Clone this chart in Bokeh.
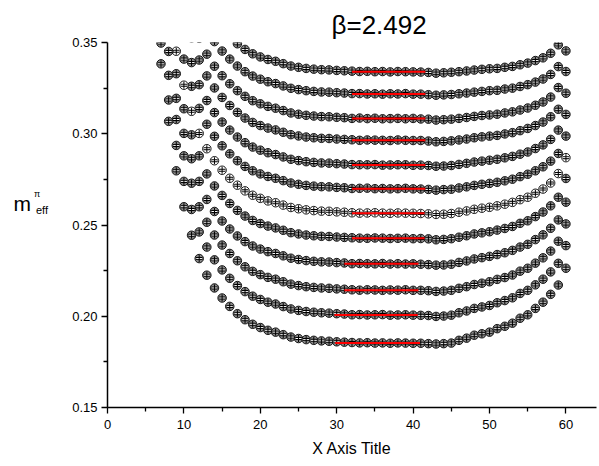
from bokeh.plotting import figure
from bokeh.layouts import row
from bokeh.models import Range1d, FixedTicker, PrintfTickFormatter
from bokeh.core.properties import value
from bokeh.embed import file_html
from bokeh.resources import INLINE
import math

# first time slice of each series
T_START = [15, 13, 12, 11, 10, 9, 9, 8, 8, 8, 7, 7]

s1 = [0.3575, 0.3531, 0.3493, 0.3462, 0.3438, 0.3421, 0.3407, 0.3397, 0.3384, 0.3371, 0.3364, 0.3358, 0.3354, 0.3351, 0.3350, 0.3347, 0.3345,
      0.3343, 0.3341, 0.3342, 0.3340, 0.3341, 0.3339, 0.3341, 0.3340, 0.3339, 0.3338, 0.3336, 0.3332, 0.3334,
      0.3337, 0.3340, 0.3344, 0.3349, 0.3353, 0.3356, 0.3358, 0.3364, 0.3369, 0.3378, 0.3387, 0.3401, 0.3416, 0.3441, 0.3487, 0.3580]
s2 = [0.3571, 0.3505, 0.3453, 0.3409, 0.3371, 0.3340, 0.3316, 0.3299, 0.3285, 0.3275, 0.3262, 0.3249, 0.3242, 0.3236, 0.3232, 0.3229, 0.3228, 0.3225, 0.3223,
      0.3220, 0.3220, 0.3218, 0.3219, 0.3217, 0.3219, 0.3218, 0.3220, 0.3217, 0.3217, 0.3214, 0.3211, 0.3213,
      0.3215, 0.3219, 0.3223, 0.3228, 0.3232, 0.3236, 0.3238, 0.3245, 0.3250, 0.3259, 0.3269, 0.3283, 0.3300, 0.3325, 0.3368, 0.3454]
s3 = [0.3523, 0.3436, 0.3370, 0.3318, 0.3274, 0.3236, 0.3205, 0.3181, 0.3164, 0.3150, 0.3140, 0.3127, 0.3114, 0.3107, 0.3101, 0.3097, 0.3094, 0.3093, 0.3090, 0.3088,
      0.3084, 0.3086, 0.3083, 0.3085, 0.3082, 0.3083, 0.3084, 0.3082, 0.3084, 0.3081, 0.3080, 0.3075, 0.3077,
      0.3080, 0.3084, 0.3089, 0.3095, 0.3100, 0.3103, 0.3107, 0.3114, 0.3120, 0.3130, 0.3141, 0.3156, 0.3174, 0.3201, 0.3253, 0.3341]
s4 = [0.3525, 0.3404, 0.3317, 0.3251, 0.3199, 0.3155, 0.3117, 0.3086, 0.3062, 0.3045, 0.3031, 0.3021, 0.3008, 0.2995, 0.2988, 0.2982, 0.2978, 0.2975, 0.2974, 0.2971, 0.2969,
      0.2967, 0.2964, 0.2966, 0.2965, 0.2964, 0.2963, 0.2966, 0.2964, 0.2963, 0.2963, 0.2960, 0.2956, 0.2958,
      0.2961, 0.2966, 0.2971, 0.2978, 0.2983, 0.2987, 0.2991, 0.2999, 0.3006, 0.3017, 0.3029, 0.3045, 0.3064, 0.3093, 0.3134, 0.3222]
s5 = [0.3539, 0.3390, 0.3269, 0.3182, 0.3116, 0.3064, 0.3020, 0.2982, 0.2951, 0.2927, 0.2910, 0.2896, 0.2886, 0.2873, 0.2860, 0.2853, 0.2847, 0.2843, 0.2840, 0.2839, 0.2836, 0.2834,
      0.2831, 0.2830, 0.2830, 0.2831, 0.2828, 0.2829, 0.2830, 0.2830, 0.2827, 0.2828, 0.2826, 0.2822, 0.2823,
      0.2826, 0.2832, 0.2838, 0.2845, 0.2850, 0.2855, 0.2860, 0.2868, 0.2876, 0.2888, 0.2900, 0.2919, 0.2939, 0.2969, 0.3020, 0.3106]
s6 = [0.3596, 0.3409, 0.3260, 0.3139, 0.3052, 0.2986, 0.2934, 0.2890, 0.2852, 0.2821, 0.2797, 0.2780, 0.2766, 0.2756, 0.2743, 0.2730, 0.2723, 0.2717, 0.2713, 0.2710, 0.2709, 0.2706, 0.2704,
      0.2700, 0.2701, 0.2702, 0.2699, 0.2700, 0.2698, 0.2699, 0.2701, 0.2698, 0.2697, 0.2695, 0.2691, 0.2694,
      0.2696, 0.2703, 0.2709, 0.2717, 0.2723, 0.2728, 0.2734, 0.2742, 0.2751, 0.2765, 0.2778, 0.2797, 0.2819, 0.2850, 0.2892, 0.2987]
s7 = [0.3452, 0.3266, 0.3123, 0.3002, 0.2918, 0.2852, 0.2800, 0.2756, 0.2718, 0.2687, 0.2663, 0.2646, 0.2632, 0.2622, 0.2609, 0.2596, 0.2589, 0.2583, 0.2579, 0.2576, 0.2575, 0.2572, 0.2570,
      0.2567, 0.2565, 0.2566, 0.2567, 0.2565, 0.2564, 0.2566, 0.2565, 0.2564, 0.2563, 0.2561, 0.2558, 0.2559,
      0.2563, 0.2570, 0.2577, 0.2586, 0.2592, 0.2597, 0.2605, 0.2614, 0.2624, 0.2639, 0.2652, 0.2674, 0.2697, 0.2730, 0.2782, 0.2869]
s8 = [0.3581, 0.3329, 0.3137, 0.2994, 0.2879, 0.2780, 0.2714, 0.2662, 0.2618, 0.2580, 0.2549, 0.2525, 0.2508, 0.2494, 0.2484, 0.2471, 0.2458, 0.2451, 0.2445, 0.2441, 0.2438, 0.2437, 0.2434, 0.2432,
      0.2430, 0.2428, 0.2427, 0.2429, 0.2428, 0.2426, 0.2427, 0.2428, 0.2425, 0.2426, 0.2424, 0.2419, 0.2421,
      0.2425, 0.2433, 0.2441, 0.2451, 0.2457, 0.2463, 0.2472, 0.2481, 0.2492, 0.2509, 0.2523, 0.2546, 0.2571, 0.2605, 0.2652, 0.2755]
s9 = [0.3451, 0.3194, 0.3002, 0.2863, 0.2739, 0.2640, 0.2574, 0.2522, 0.2478, 0.2440, 0.2409, 0.2385, 0.2368, 0.2354, 0.2344, 0.2331, 0.2318, 0.2311, 0.2305, 0.2301, 0.2298, 0.2297, 0.2294, 0.2292,
      0.2288, 0.2289, 0.2288, 0.2287, 0.2289, 0.2286, 0.2288, 0.2286, 0.2287, 0.2285, 0.2283, 0.2280, 0.2281,
      0.2285, 0.2295, 0.2303, 0.2314, 0.2321, 0.2328, 0.2338, 0.2348, 0.2361, 0.2379, 0.2394, 0.2420, 0.2446, 0.2482, 0.2528, 0.2625]
s10 = [0.3320, 0.3078, 0.2879, 0.2729, 0.2600, 0.2515, 0.2445, 0.2390, 0.2344, 0.2304, 0.2271, 0.2246, 0.2228, 0.2213, 0.2203, 0.2189, 0.2176, 0.2168, 0.2162, 0.2158, 0.2155, 0.2153, 0.2150, 0.2148,
       0.2145, 0.2143, 0.2145, 0.2144, 0.2142, 0.2144, 0.2143, 0.2145, 0.2142, 0.2142, 0.2140, 0.2136, 0.2138,
       0.2142, 0.2153, 0.2162, 0.2174, 0.2181, 0.2189, 0.2202, 0.2212, 0.2226, 0.2247, 0.2263, 0.2291, 0.2320, 0.2357, 0.2411, 0.2506]
s11 = [0.3497, 0.3185, 0.2936, 0.2739, 0.2585, 0.2462, 0.2379, 0.2309, 0.2254, 0.2208, 0.2168, 0.2135, 0.2110, 0.2092, 0.2077, 0.2067, 0.2053, 0.2040, 0.2032, 0.2026, 0.2022, 0.2019, 0.2017, 0.2014, 0.2012,
       0.2008, 0.2009, 0.2007, 0.2008, 0.2009, 0.2006, 0.2007, 0.2008, 0.2006, 0.2005, 0.2004, 0.1999, 0.2001,
       0.2006, 0.2019, 0.2029, 0.2043, 0.2051, 0.2059, 0.2074, 0.2086, 0.2101, 0.2125, 0.2142, 0.2172, 0.2203, 0.2243, 0.2290, 0.2387]
s12 = [0.3383, 0.3068, 0.2797, 0.2600, 0.2444, 0.2316, 0.2225, 0.2155, 0.2100, 0.2054, 0.2014, 0.1981, 0.1956, 0.1938, 0.1923, 0.1913, 0.1899, 0.1886, 0.1878, 0.1872, 0.1868, 0.1865, 0.1863, 0.1860, 0.1858,
       0.1856, 0.1854, 0.1855, 0.1853, 0.1854, 0.1852, 0.1854, 0.1853, 0.1852, 0.1852, 0.1850, 0.1848, 0.1850,
       0.1853, 0.1868, 0.1880, 0.1896, 0.1904, 0.1913, 0.1932, 0.1945, 0.1962, 0.1989, 0.2008, 0.2043, 0.2077, 0.2120, 0.2171, 0.2263]
SERIES = [s1, s2, s3, s4, s5, s6, s7, s8, s9, s10, s11, s12]
OPEN_SERIES = [6]  # drawn with white symbols

# plateau fits (red lines)
FIT_VALUE = [0.3340, 0.3218, 0.3083, 0.2964, 0.2829, 0.2699, 0.2565, 0.2427, 0.2287, 0.2143, 0.2007, 0.1853]
FIT_FROM = [32, 32, 32, 32, 32, 32, 32, 32, 31, 31, 29.7, 29.8]
FIT_TO = [41.6, 41.6, 41.6, 41.6, 41.6, 41.6, 41.5, 41.5, 40.7, 40.7, 40.6, 40.9]

X_TICKS = [0, 10, 20, 30, 40, 50, 60]
X_MINOR = [5, 15, 25, 35, 45, 55]
Y_TICKS = [0.15, 0.20, 0.25, 0.30, 0.35]
Y_MINOR = [0.175, 0.225, 0.275, 0.325]

TITLE = "β=2.492"
X_TITLE = "X Axis Title"
Y_TITLE = ["m", "π", "eff"]

FONT = "Liberation Sans"
LEFT_W = 60

# ---- narrow text panel holding the y-axis title m^pi_eff ----
lab = figure(width=LEFT_W, height=466, output_backend="svg", toolbar_location=None,
             x_range=Range1d(0, LEFT_W), y_range=Range1d(466, 0),
             x_axis_location=None, y_axis_location=None, min_border=0)
lab.outline_line_color = None
lab.grid.visible = False
lab.text(x=[13], y=[206], text=[Y_TITLE[0]], text_font=value(FONT), text_font_size="21px",
         text_baseline="alphabetic", text_color="black")
lab.text(x=[33.5], y=[193], text=[Y_TITLE[1]], text_font=value(FONT), text_font_size="9px",
         text_baseline="alphabetic", text_color="black")
lab.text(x=[35.5], y=[213.5], text=[Y_TITLE[2]], text_font=value(FONT), text_font_size="11px",
         text_baseline="alphabetic", text_color="black")

# ---- main plot ----
p = figure(width=599 - LEFT_W, height=466, output_backend="svg", toolbar_location=None,
           x_range=Range1d(0, 64), y_range=Range1d(0.15, 0.35),
           min_border_left=107 - LEFT_W, min_border_right=3, min_border_top=42, min_border_bottom=59)
p.outline_line_color = None
p.grid.visible = False

p.title.text = TITLE
p.title.align = "left"
p.title.offset = 224
p.title.standoff = 5
p.title.text_font = FONT
p.title.text_font_size = "26px"
p.title.text_font_style = "normal"
p.title.text_color = "black"

for ax in (p.xaxis[0], p.yaxis[0]):
    ax.axis_line_width = 1.5
    ax.major_tick_line_width = 1.3
    ax.minor_tick_line_width = 1.3
    ax.major_tick_in = 0
    ax.major_tick_out = 6
    ax.minor_tick_in = 0
    ax.minor_tick_out = 4
    ax.major_label_text_font = FONT
    ax.major_label_text_font_size = "13px"
    ax.major_label_text_color = "black"

p.xaxis.ticker = FixedTicker(ticks=X_TICKS, minor_ticks=X_MINOR)
p.yaxis.ticker = FixedTicker(ticks=Y_TICKS, minor_ticks=Y_MINOR)
p.yaxis.formatter = PrintfTickFormatter(format="%.2f")
p.xaxis.major_label_standoff = 6
p.yaxis.major_label_standoff = 4
p.xaxis.axis_label = X_TITLE
p.xaxis.axis_label_standoff = 8
p.xaxis.axis_label_text_font = FONT
p.xaxis.axis_label_text_font_size = "16px"
p.xaxis.axis_label_text_font_style = "normal"
p.xaxis.axis_label_text_color = "black"

for k, vals in enumerate(SERIES):
    xs = list(range(T_START[k], T_START[k] + len(vals)))
    fill = "white" if k in OPEN_SERIES else "#8a8a8a"
    p.scatter(xs, vals, marker="circle", size=8.5, fill_color=fill,
              line_color="black", line_width=0.9)
    # error-bar look inside each symbol
    p.scatter(xs, vals, marker="dash", size=6.5, line_color="black", line_width=3)
    p.scatter(xs, vals, marker="dash", size=6, line_color="white", line_width=1)
    p.scatter(xs, vals, marker="dash", size=7, angle=math.pi / 2, line_color="black", line_width=1)

p.segment(x0=FIT_FROM, y0=FIT_VALUE, x1=FIT_TO, y1=FIT_VALUE, line_color="red", line_width=2)

layout = row(lab, p, spacing=0)
open("out.html", "w").write(file_html(layout, INLINE))
